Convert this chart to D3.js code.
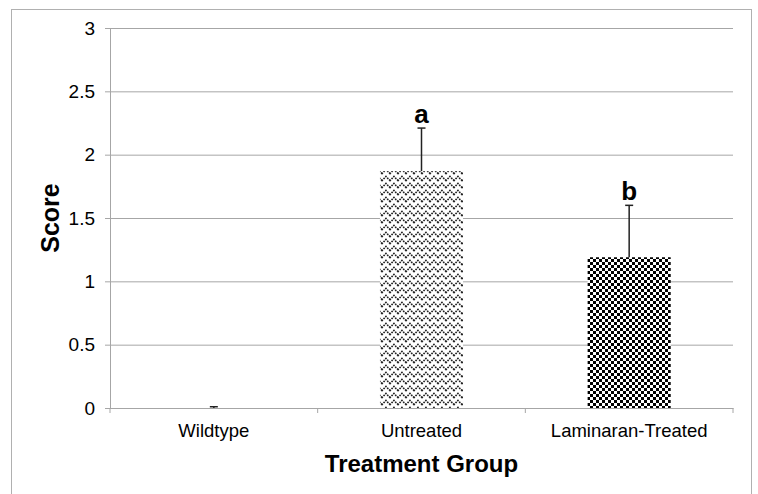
<!DOCTYPE html>
<html>
<head>
<meta charset="utf-8">
<script src="https://cdn.jsdelivr.net/npm/d3@7"></script>
<style>
  html, body { margin: 0; padding: 0; background: #fff; }
  svg { display: block; font-family: "Liberation Sans", Arial, Helvetica, sans-serif; }
</style>
</head>
<body>
<div id="chart"></div>
<script>
const groups = ['Wildtype', 'Untreated', 'Laminaran-Treated'];
const scores = [0, 1.87, 1.19];
const errors = [0.01, 0.34, 0.41];
const sigLetters = ['', 'a', 'b'];
const yTicks = [0, 0.5, 1, 1.5, 2, 2.5, 3];

const W = 758, H = 494;
const m = { top: 28, right: 25, bottom: 86, left: 110 };
const innerW = W - m.left - m.right;
const innerH = H - m.top - m.bottom;

const svg = d3.select('#chart').append('svg')
  .attr('width', W).attr('height', H);

const defs = svg.append('defs');

// zigzag fill for Untreated
const zz = defs.append('pattern')
  .attr('id', 'zigzag').attr('patternUnits', 'userSpaceOnUse')
  .attr('width', 8).attr('height', 7);
zz.append('rect').attr('width', 8).attr('height', 7).attr('fill', '#fff');
zz.append('path')
  .attr('d', 'M-4,1.5 L0,5.5 L4,1.5 L8,5.5 L12,1.5 M-4,8.5 L0,12.5 L4,8.5 L8,12.5 M-4,-5.5 L0,-1.5 L4,-5.5 L8,-1.5 L12,-5.5')
  .attr('fill', 'none').attr('stroke', '#1a1a1a').attr('stroke-width', 1.6)
  .attr('stroke-dasharray', '1.6,1');

// checkerboard fill for Laminaran-Treated
const ck = defs.append('pattern')
  .attr('id', 'checker').attr('patternUnits', 'userSpaceOnUse')
  .attr('width', 6).attr('height', 6);
ck.append('rect').attr('width', 6).attr('height', 6).attr('fill', '#fff');
ck.append('rect').attr('width', 3).attr('height', 3).attr('fill', '#000');
ck.append('rect').attr('x', 3).attr('y', 3).attr('width', 3).attr('height', 3).attr('fill', '#000');

const fills = ['#fff', 'url(#zigzag)', 'url(#checker)'];

// outer frame
svg.append('rect')
  .attr('x', 11.5).attr('y', 9.5).attr('width', 740).attr('height', 500)
  .attr('fill', 'none').attr('stroke', '#b0b0b0');

const g = svg.append('g').attr('transform', `translate(${m.left},${m.top})`);

const x = d3.scaleBand().domain(groups).range([0, innerW]).paddingInner(0.6).paddingOuter(0.3);
const xb = d3.scaleBand().domain(groups).range([0, innerW]);
const y = d3.scaleLinear().domain([0, 3]).range([innerH, 0]);

// gridlines
g.append('g')
  .call(d3.axisLeft(y).tickValues(yTicks).tickSize(-innerW).tickFormat(''))
  .call(s => s.select('.domain').remove())
  .call(s => s.selectAll('line').attr('stroke', '#a6a6a6'));

// y axis
const ya = g.append('g')
  .call(d3.axisLeft(y).tickValues(yTicks).tickSize(5).tickPadding(10).tickFormat(d3.format('')));
ya.select('.domain').attr('stroke', '#a6a6a6');
ya.selectAll('line').attr('stroke', '#a6a6a6');
ya.selectAll('text').attr('font-size', 19).attr('fill', '#000')
  .attr('font-family', '"Liberation Sans", Arial, sans-serif');

// x axis
const xa = g.append('g').attr('transform', `translate(0,${innerH})`)
  .call(d3.axisBottom(xb).tickSize(0).tickPadding(16));
xa.select('.domain').attr('stroke', '#a6a6a6');
xa.selectAll('text').attr('font-size', 18.5).attr('fill', '#000')
  .attr('font-family', '"Liberation Sans", Arial, sans-serif');
// boundary ticks between categories
g.append('g').selectAll('line')
  .data([0, 1, 2, 3])
  .join('line')
  .attr('x1', i => i * xb.step()).attr('x2', i => i * xb.step())
  .attr('y1', innerH).attr('y2', innerH + 5)
  .attr('stroke', '#a6a6a6');

// bars
g.selectAll('.bar').data(groups).join('rect')
  .attr('class', 'bar')
  .attr('x', d => x(d))
  .attr('width', x.bandwidth())
  .attr('y', (d, i) => y(scores[i]))
  .attr('height', (d, i) => innerH - y(scores[i]))
  .attr('fill', (d, i) => fills[i]);

// error bars
const eb = g.selectAll('.err').data(groups).join('g').attr('class', 'err');
eb.append('line')
  .attr('x1', d => x(d) + x.bandwidth() / 2).attr('x2', d => x(d) + x.bandwidth() / 2)
  .attr('y1', (d, i) => y(scores[i])).attr('y2', (d, i) => y(scores[i] + errors[i]))
  .attr('stroke', '#222').attr('stroke-width', 1.5);
eb.append('line')
  .attr('x1', d => x(d) + x.bandwidth() / 2 - 4).attr('x2', d => x(d) + x.bandwidth() / 2 + 4)
  .attr('y1', (d, i) => y(scores[i] + errors[i])).attr('y2', (d, i) => y(scores[i] + errors[i]))
  .attr('stroke', '#222').attr('stroke-width', 1.5);

// significance letters
g.selectAll('.sig').data(groups).join('text')
  .attr('class', 'sig')
  .attr('x', d => x(d) + x.bandwidth() / 2)
  .attr('y', (d, i) => y(scores[i] + errors[i]) - 5)
  .attr('text-anchor', 'middle')
  .attr('font-size', 26).attr('font-weight', 'bold')
  .text((d, i) => sigLetters[i]);

// axis titles
svg.append('text')
  .attr('x', m.left + innerW / 2).attr('y', 472)
  .attr('text-anchor', 'middle')
  .attr('font-size', 24).attr('font-weight', 'bold')
  .text('Treatment Group');

svg.append('text')
  .attr('transform', `translate(59,${m.top + innerH / 2}) rotate(-90)`)
  .attr('text-anchor', 'middle')
  .attr('font-size', 25).attr('font-weight', 'bold')
  .text('Score');
</script>
</body>
</html>
